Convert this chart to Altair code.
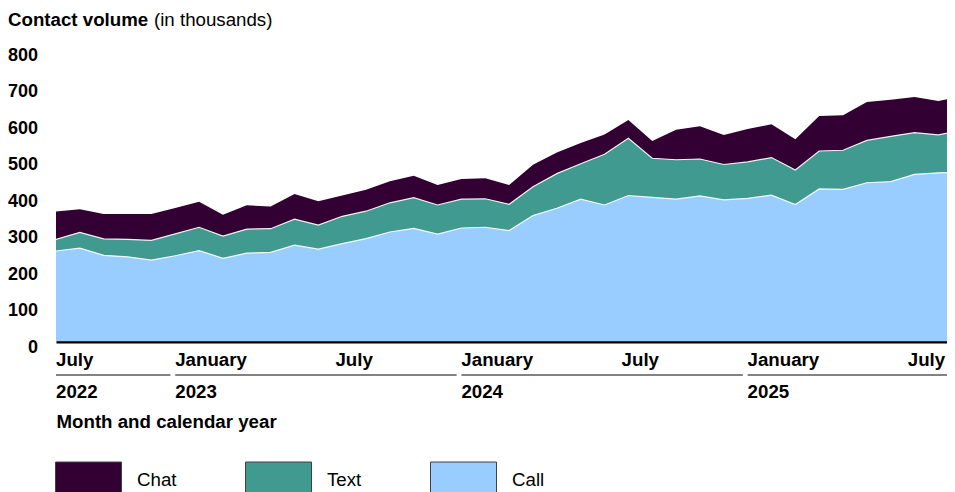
import altair as alt
import pandas as pd

# ---- data (thousands of contacts), monthly from July 2022 ----
months = pd.date_range("2022-07-01", periods=39, freq="MS").strftime("%Y-%m").tolist()

call = [248, 256, 236, 232, 223, 235, 249, 228, 242, 244, 264, 253, 268,
        282, 300, 310, 294, 311, 313, 304, 345, 365, 390, 374, 400, 395,
        390, 399, 388, 392, 401, 375, 418, 417, 435, 438, 458, 462, 464]
text = [32, 43, 45, 48, 54, 60, 64, 61, 66, 65, 71, 66, 75,
        75, 80, 84, 80, 79, 78, 72, 79, 95, 97, 139, 157, 107,
        108, 101, 97, 100, 103, 95, 104, 107, 116, 124, 114, 104, 116]
chat = [76, 63, 68, 69, 72, 71, 70, 58, 65, 61, 69, 65, 57,
        59, 59, 60, 55, 55, 56, 53, 60, 58, 57, 54, 50, 47,
        82, 90, 81, 90, 91, 84, 96, 96, 105, 100, 98, 93, 92]

series_names = ["Chat", "Text", "Call"]
series_colors = ["#330033", "#409A90", "#99CCFF"]
stack_rank = {"Call": 0, "Text": 1, "Chat": 2}

# axis label content
label_months = ["2023-01", "2023-07", "2024-01", "2024-07", "2025-01", "2025-07"]
label_text = ["January", "July", "January", "July", "January", "July"]
first_label = "July"
year_text = ["2022", "2023", "2024", "2025"]

X_MAX = 37.36  # visible month-index range of the plot
year_start = [0, 5, 17, 29]
year_end = [4.8, 16.8, 28.8, X_MAX]

rows = []
for i, m in enumerate(months):
    for name, vals in (("Call", call), ("Text", text), ("Chat", chat)):
        rows.append({"idx": i, "month": m, "series": name,
                     "value": vals[i], "ord": stack_rank[name]})
df = pd.DataFrame(rows)

FONT = "Liberation Sans"
FS = 18.7
W, H = 891, 292

x_scale = alt.Scale(domain=[0, X_MAX], nice=False, zero=False)
y_scale = alt.Scale(domain=[0, 800], nice=False)
x_axis = alt.Axis(labels=False, ticks=False, grid=False, domain=True,
                  domainColor="black", domainWidth=3, title=None)
y_axis = alt.Axis(values=list(range(0, 801, 100)), labelFont=FONT,
                  labelFontSize=18, labelFontWeight="bold",
                  labelColor="black", labelAlign="right",
                  labelBaseline="alphabetic", labelPadding=18.5,
                  labelOffset=10.5, ticks=False, tickSize=0,
                  domain=False, grid=False, title=None)

area = alt.Chart(df).mark_area(clip=True, opacity=1).encode(
    x=alt.X("idx:Q", scale=x_scale, axis=x_axis),
    y=alt.Y("value:Q", stack="zero", scale=y_scale, axis=y_axis),
    color=alt.Color("series:N",
                    scale=alt.Scale(domain=series_names, range=series_colors),
                    legend=alt.Legend(title=None, orient="none", legendX=-1,
                                      legendY=397, direction="horizontal",
                                      symbolType="M-1,-0.55H1V0.55H-1Z",
                                      symbolSize=4356,
                                      symbolStrokeColor="#404040",
                                      symbolStrokeWidth=1, symbolOpacity=1,
                                      labelFont=FONT, labelFontSize=FS,
                                      labelColor="black", labelOffset=15,
                                      columnPadding=66, padding=0)),
    order=alt.Order("ord:Q"),
)

lines = alt.Chart(df).transform_stack(
    stack="value", groupby=["idx"], as_=["y0", "y1"],
    sort=[alt.SortField("ord", order="ascending")]
).transform_filter("datum.series != 'Chat'").mark_line(
    clip=True, color="white", strokeWidth=1.2, opacity=0.9
).encode(
    x=alt.X("idx:Q", scale=x_scale, axis=x_axis),
    y=alt.Y("y1:Q", scale=y_scale, axis=y_axis),
    detail="series:N",
)

text_style = dict(baseline="alphabetic", font=FONT, fontSize=FS,
                  fontWeight="bold", color="black")

month_idx = {m: i for i, m in enumerate(months)}
tick_df = pd.DataFrame({"idx": [month_idx[m] for m in label_months],
                        "label": label_text})
ticks_layer = alt.Chart(tick_df).transform_calculate(
    pos="datum.idx + 0.5"
).mark_text(align="center", **text_style).encode(
    x=alt.X("pos:Q", scale=x_scale, axis=x_axis), y=alt.value(316.5),
    text="label:N")

first_tick = alt.Chart(pd.DataFrame({"idx": [0], "label": [first_label]})).mark_text(
    align="left", **text_style
).encode(x=alt.X("idx:Q", scale=x_scale, axis=x_axis), y=alt.value(316.5),
         text="label:N")

year_df = pd.DataFrame({"start": year_start, "end": year_end, "label": year_text})
year_rules = alt.Chart(year_df).mark_rule(stroke="#595959", strokeWidth=1.5).encode(
    x=alt.X("start:Q", scale=x_scale, axis=x_axis), x2="end:Q", y=alt.value(325.5))
year_labels = alt.Chart(year_df).mark_text(align="left", **text_style).encode(
    x=alt.X("start:Q", scale=x_scale, axis=x_axis), y=alt.value(348.5),
    text="label:N")

xtitle = alt.Chart(pd.DataFrame({"t": ["Month and calendar year"]})).mark_text(
    align="left", **text_style
).encode(x=alt.value(0.5), y=alt.value(378), text="t:N")

title_bold = alt.Chart(pd.DataFrame({"t": ["Contact volume"]})).mark_text(
    align="left", **text_style
).encode(x=alt.value(-48), y=alt.value(-23.5), text="t:N")
title_norm = alt.Chart(pd.DataFrame({"t": ["(in thousands)"]})).mark_text(
    align="left", baseline="alphabetic", font=FONT, fontSize=FS,
    fontWeight="normal", color="black"
).encode(x=alt.value(98), y=alt.value(-23.5), text="t:N")

chart = alt.layer(
    area, lines, ticks_layer, first_tick, year_rules, year_labels, xtitle,
    title_bold, title_norm
).properties(
    width=W, height=H,
    autosize=alt.AutoSizeParams(type="none"),
    padding={"left": 48, "top": 41.5, "right": 0, "bottom": 150.5},
).configure_view(stroke="transparent")

chart.save("out.html", embed_options={"renderer": "svg", "actions": False})
